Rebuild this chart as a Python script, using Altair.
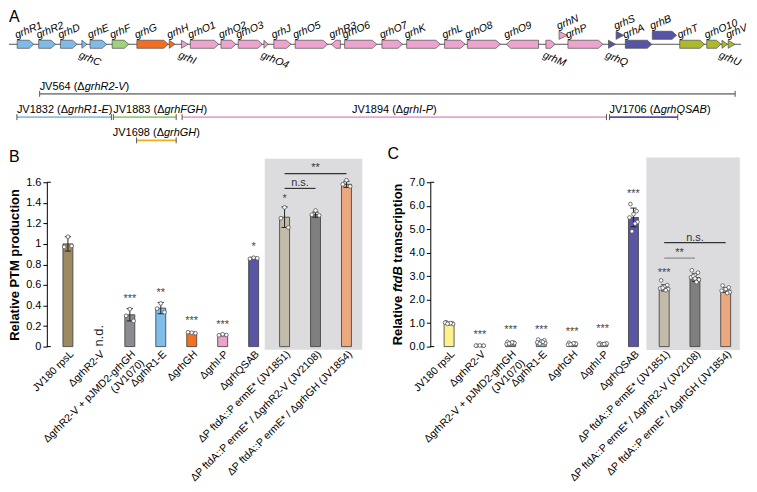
import json
import altair as alt
import pandas as pd

FONT = "Liberation Sans"

# ================= Panel A : gene cluster =================
gene_names = ["grhR1", "grhR2", "grhD", "grhC", "grhE", "grhF", "grhG", "grhH", "grhI",
              "grhO1", "grhO2", "grhO3", "grhO4", "grhJ", "grhO5", "grhR3", "grhO6", "grhO7",
              "grhK", "grhL", "grhO8", "grhO9", "grhM", "grhN", "grhP", "grhQ", "grhS",
              "grhA", "grhB", "grhT", "grhO10", "grhU", "grhV"]
gene_start = [12.3, 34, 56, 77.7, 86, 108.3, 133.3, 166, 178.3, 187.3, 218.3, 235.7, 261.7,
              271.7, 293.3, 330, 343.3, 381, 406, 444.3, 467.3, 506.7, 546.7, 560, 569,
              610, 617.7, 627, 654.3, 682, 709.3, 724.7, 731]
gene_end = [29, 51, 72.7, 82.7, 102.7, 125, 165, 171.7, 185, 216, 233.3, 260, 266, 289, 326,
            339, 375.7, 401.7, 440, 465, 500.7, 539.3, 556, 568.3, 604.3, 617, 625.3, 653.7,
            678.7, 707, 723.7, 730.3, 737.7]
gene_strand = [1, 1, 1, 1, 1, 1, 1, 1, 1, 1, 1, 1, 1, 1, 1, -1, 1, 1, 1, 1, 1, -1, 1, 1, 1,
               1, 1, 1, 1, 1, 1, 1, 1]
gene_lane = [0, 0, 0, 0, 0, 0, 0, 0, 0, 0, 0, 0, 0, 0, 0, 0, 0, 0, 0, 0, 0, 0, 0, 1, 0,
             0, 1, 0, 1, 0, 0, 0, 0]
gene_group = ["reg", "reg", "reg", "reg", "reg", "fgh", "gh", "gh", "ip", "ip", "ip", "ip", "ip",
              "ip", "ip", "ip", "ip", "ip", "ip", "ip", "ip", "ip", "ip", "ip", "ip",
              "qsab", "qsab", "qsab", "qsab", "tuv", "tuv", "tuv", "tuv"]
labels_below = ["grhC", "grhI", "grhO4", "grhM", "grhQ", "grhU"]
group_names = ["reg", "fgh", "gh", "ip", "qsab", "tuv"]
group_colors = ["#80bbe8", "#9fd17e", "#f26e22", "#eba4cd", "#5753a5", "#aab92d"]
backbone = [4, 744]

del_labels = ["JV564 (ΔgrhR2-V)", "JV1832 (ΔgrhR1-E)", "JV1883 (ΔgrhFGH)",
              "JV1894 (ΔgrhI-P)", "JV1706 (ΔgrhQSAB)", "JV1698 (ΔgrhGH)"]
del_start = [35, 12, 109.5, 179, 611, 133]
del_end = [738, 107.5, 173, 608, 680, 173]
del_lane = [-5.53, -8.13, -8.13, -8.13, -8.13, -10.72]
del_colors = ["#8a8a8a", "#86bfe9", "#96cd74", "#eca3cc", "#5450a5", "#f4ae1c"]
del_centered = [False, False, False, True, False, True]

HEAD = 4.5
HALF = 0.45
LEFT_EXT = 38                      # width of the B axis area, shared with panel A
A_X_DOMAIN = [4 + LEFT_EXT / 0.993, 750]
A_Y_DOMAIN = [-11.06, 3.94]
A_W, A_H = 703, 135
PXU = A_W / (A_X_DOMAIN[1] - A_X_DOMAIN[0])   # pixels per genome unit

# Arial / Liberation Sans advance widths (1/1000 em) used to place italic runs
REG_W = {" ": 278, "(": 333, ")": 333, "-": 333, "Δ": 667, "J": 500, "V": 667, "g": 556,
         "r": 333, "h": 556, "R": 722, "E": 667, "F": 611, "G": 778, "H": 722, "I": 278,
         "P": 667, "Q": 778, "S": 667, "A": 667, "B": 667}
BOLD_W = {" ": 278, "R": 722, "e": 556, "l": 278, "a": 556, "t": 333, "i": 278, "v": 556,
          "f": 333, "d": 611, "B": 722, "r": 389, "n": 611, "s": 556, "c": 556, "p": 611,
          "o": 611}


def text_w(s, size, table):
    return sum(table.get(c, 556) for c in s) * size / 1000.0


def ax(field):
    return alt.X(field, type="quantitative",
                 scale=alt.Scale(domain=A_X_DOMAIN, nice=False, zero=False), axis=None)


def ay(field):
    return alt.Y(field, type="quantitative", stack=False,
                 scale=alt.Scale(domain=A_Y_DOMAIN, nice=False, zero=False), axis=None)


rows = []
for i, n in enumerate(gene_names):
    s, e = gene_start[i], gene_end[i]
    ln = e - s
    h = ln if ln < 9 else HEAD
    lane = gene_lane[i]
    if gene_strand[i] > 0:
        pts = [(s, 1.0), (e - h, 1.0), (e, 0.0)] if h < ln else [(s, 1.0), (e, 0.0)]
    else:
        pts = [(s, 0.0), (s + h, 1.0), (e, 1.0)] if h < ln else [(s, 0.0), (e, 1.0)]
    for x, f in pts:
        rows.append({"gene": n, "x": x, "top": lane + HALF * f, "bot": lane - HALF * f,
                     "grp": gene_group[i]})
arrow_df = pd.DataFrame(rows)

genes_df = pd.DataFrame({"gene": gene_names, "start": gene_start, "end": gene_end,
                         "lane": gene_lane})
genes_df["top"] = genes_df["lane"] + HALF
genes_df["bot"] = genes_df["lane"] - HALF
above_df = genes_df[~genes_df["gene"].isin(labels_below)]
below_df = genes_df[genes_df["gene"].isin(labels_below)]

bb_df = pd.DataFrame({"x0": [backbone[0]], "x1": [backbone[1]], "lane": [0]})

del_df = pd.DataFrame({"label": del_labels, "start": del_start, "end": del_end,
                       "lane": del_lane, "color": del_colors, "centered": del_centered})
del_df["lo"] = del_df["lane"] - 0.33
del_df["hi"] = del_df["lane"] + 0.33
ends_df = pd.concat([del_df.assign(xe=del_df["start"]), del_df.assign(xe=del_df["end"])])

# split each deletion label into normal / italic / normal runs
DFS = 11
piece_rows = []
for i, lab in enumerate(del_labels):
    k = lab.index("Δ") + 1
    pre, ital, suf = lab[:k], lab[k:-1], lab[-1:]
    total = text_w(lab, DFS, REG_W)
    if del_centered[i]:
        x0 = (del_start[i] + del_end[i]) / 2 - total / 2 / PXU
    else:
        x0 = del_start[i]
    w_pre = text_w(pre, DFS, REG_W)
    w_it = text_w(ital, DFS, REG_W)
    piece_rows.append({"t": pre, "x": x0, "lane": del_lane[i], "style": "normal"})
    piece_rows.append({"t": ital, "x": x0 + w_pre / PXU, "lane": del_lane[i], "style": "italic"})
    piece_rows.append({"t": suf, "x": x0 + (w_pre + w_it) / PXU, "lane": del_lane[i],
                       "style": "normal"})
pieces_df = pd.DataFrame(piece_rows)

a_backbone = alt.Chart(bb_df).mark_rule(color="#555555", strokeWidth=1).encode(
    x=ax("x0"), x2="x1", y=ay("lane"))
a_arrows = alt.Chart(arrow_df).mark_area(stroke="#4d4d4d", strokeWidth=0.7, orient="vertical",
                                          interpolate="linear", opacity=1).encode(
    x=ax("x"), y=ay("top"), y2="bot",
    fill=alt.Fill("grp:N", scale=alt.Scale(domain=group_names, range=group_colors), legend=None),
    detail="gene:N")
a_lab_up = alt.Chart(above_df).mark_text(angle=338, align="left", baseline="alphabetic",
                                          dy=-2, fontSize=10.5, fontStyle="italic",
                                          color="#000").encode(
    x=ax("start"), y=ay("top"), text="gene:N")
a_lab_dn = alt.Chart(below_df).mark_text(angle=22, align="left", baseline="top", dy=2,
                                          fontSize=10.5, fontStyle="italic",
                                          color="#000").encode(
    x=ax("start"), y=ay("bot"), text="gene:N")
a_del = alt.Chart(del_df).mark_rule(strokeWidth=1.6).encode(
    x=ax("start"), x2="end", y=ay("lane"), color=alt.Color("color:N", scale=None))
a_ends = alt.Chart(ends_df).mark_rule(strokeWidth=1, color="#555555").encode(
    x=ax("xe"), y=ay("lo"), y2="hi")
a_dlab_n = alt.Chart(pieces_df[pieces_df["style"] == "normal"]).mark_text(
    align="left", baseline="alphabetic", dy=-4, fontSize=DFS, color="#000").encode(
    x=ax("x"), y=ay("lane"), text="t:N")
a_dlab_i = alt.Chart(pieces_df[pieces_df["style"] == "italic"]).mark_text(
    align="left", baseline="alphabetic", dy=-4, fontSize=DFS, fontStyle="italic",
    color="#000").encode(
    x=ax("x"), y=ay("lane"), text="t:N")
a_letter = alt.Chart(pd.DataFrame({"t": ["A"]})).mark_text(
    align="left", baseline="top", fontSize=16, color="#000").encode(
    x=alt.value(-LEFT_EXT), y=alt.value(0), text="t:N")

panel_a = alt.layer(a_backbone, a_arrows, a_lab_up, a_lab_dn, a_del, a_ends,
                    a_dlab_n, a_dlab_i, a_letter).properties(width=A_W, height=A_H)

# ================= Panels B and C : bar charts =================
NB = "\u00a0"
strain_labels = ["JV180 rpsL", "ΔgrhR2-V", "ΔgrhR2-V + pJMD2-grhGH|(JV1070)" + NB * 14,
                 "ΔgrhR1-E", "ΔgrhGH", "ΔgrhI-P", "ΔgrhQSAB", "ΔP ftdA::P ermE* (JV1851)",
                 "ΔP ftdA::P ermE* / ΔgrhR2-V (JV2108)", "ΔP ftdA::P ermE* / ΔgrhGH (JV1854)"]

b_colors = ["#9c8b62", "#ffffff", "#8c8c90", "#80bde9", "#f36f21", "#eba3cb", "#5a55a5",
            "#c2bba9", "#7f7f7f", "#eba77d"]
b_mean = [1.0, None, 0.31, 0.375, 0.135, 0.113, 0.86, 1.26, 1.285, 1.58]
b_sd = [0.07, None, 0.06, 0.055, 0.005, 0.008, 0.01, 0.1, 0.025, 0.03]
b_points = [[1.07, 0.97, 0.98], [], [0.365, 0.30, 0.25], [0.42, 0.37, 0.335],
            [0.135, 0.14, 0.13], [0.12, 0.11, 0.113], [0.865, 0.855, 0.86],
            [1.355, 1.25, 1.16], [1.325, 1.284, 1.277], [1.62, 1.58, 1.56]]
b_offsets = [0.0, -0.12, 0.12]
b_star_idx = [2, 3, 4, 5, 6, 7]
b_star_txt = ["***", "**", "***", "***", "*", "*"]
b_star_y = [0.46, 0.52, 0.25, 0.215, 0.97, 1.44]
b_sig_from = [7, 7]
b_sig_to = [9, 8]
b_sig_y = [1.684, 1.54]
b_sig_txt = ["**", "n.s."]
b_sig_txt_y = [1.74, 1.59]
b_sig_color = ["#333333", "#333333"]
b_box = [6.36, 9.51, -0.03, 1.83]
b_yticks = [0, 0.2, 0.4, 0.6, 0.8, 1.0, 1.2, 1.4, 1.6]

c_colors = ["#fdf18b", "#d0d0d0", "#8c8c90", "#80bde9", "#f36f21", "#eba3cb", "#5a55a5",
            "#c2bba9", "#7f7f7f", "#eba77d"]
c_mean = [0.99, 0.04, 0.15, 0.2, 0.12, 0.115, 5.5, 2.5, 2.94, 2.41]
c_sd = [0.03, 0.01, 0.04, 0.06, 0.03, 0.02, 0.4, 0.13, 0.16, 0.1]
c_points = [[1.04, 1.0, 0.98, 1.02, 0.96, 1.0, 0.97],
            [0.04, 0.03, 0.05, 0.04, 0.04],
            [0.2, 0.17, 0.12, 0.1, 0.15, 0.18, 0.13],
            [0.3, 0.27, 0.22, 0.18, 0.15, 0.2, 0.12],
            [0.16, 0.13, 0.1, 0.08, 0.12, 0.14, 0.09],
            [0.14, 0.12, 0.1, 0.09, 0.13, 0.11],
            [6.07, 5.77, 5.64, 5.5, 5.31, 5.24, 4.91],
            [2.82, 2.62, 2.55, 2.48, 2.45, 2.4, 2.5],
            [3.25, 3.15, 3.05, 2.95, 2.85, 2.75, 3.0, 2.9],
            [2.6, 2.52, 2.45, 2.38, 2.32, 2.28]]
c_offsets = [-0.1, 0.1, 0.0, -0.13, 0.13, 0.05, -0.05, 0.0]
c_star_idx = [1, 2, 3, 4, 5, 6, 7]
c_star_txt = ["***"] * 7
c_star_y = [0.5, 0.69, 0.69, 0.61, 0.75, 6.5, 3.15]
c_sig_from = [7, 7]
c_sig_to = [8, 9]
c_sig_y = [3.77, 4.43]
c_sig_txt = ["**", "n.s."]
c_sig_txt_y = [3.98, 4.64]
c_sig_color = ["#8a8a8a", "#333333"]
c_box = [6.42, 9.46, -0.14, 8.06]
c_yticks = [0, 1, 2, 3, 4, 5, 6, 7]
c_title_runs = ["Relative ", "ftdB", " transcription"]
c_title_italic = [False, True, False]

LABEL_EXPR = "split(" + json.dumps(strain_labels, ensure_ascii=False) + "[datum.value], '|')"
PLOT_H = 165
TFS = 13


def bar_panel(colors, means, sds, points, offsets, s_idx, s_txt, s_y, g_from, g_to, g_y,
              g_txt, g_txt_y, g_col, box, ydomain, yticks, yfmt, ytitle, width, xdomain,
              letter, letter_x, letter_y, title_pad, nd_idx=None, title_runs=None,
              title_italic=None):
    xsc = alt.Scale(domain=xdomain, nice=False, zero=False)
    ysc = alt.Scale(domain=ydomain, nice=False, zero=False)
    xaxis = alt.Axis(values=list(range(10)), labelExpr=LABEL_EXPR, labelAngle=315,
                     labelAlign="right", labelBaseline="top", labelFontSize=10.5,
                     labelPadding=2, labelOverlap=False, labelFlush=False, labelLimit=400,
                     domain=False, ticks=False, grid=False, title=None, labelColor="#000")
    yaxis_kw = dict(values=yticks, format=yfmt, labelFontSize=11, tickSize=4, grid=False,
                    domainColor="#000", tickColor="#000", labelColor="#000", labelPadding=2)
    if ytitle is not None:
        yaxis_kw.update(title=ytitle, titleFontSize=TFS, titleFontWeight="bold",
                        titlePadding=title_pad, titleColor="#000")
    else:
        yaxis_kw.update(title=None)
    yaxis = alt.Axis(**yaxis_kw)

    def X(f):
        return alt.X(f, type="quantitative", scale=xsc, axis=xaxis)

    def Y(f):
        return alt.Y(f, type="quantitative", scale=ysc, axis=yaxis, stack=False)

    box_df = pd.DataFrame({"x0": [box[0]], "x1": [box[1]], "y0": [box[2]], "y1": [box[3]]})
    bars = pd.DataFrame({"idx": list(range(10)), "mean": means, "sd": sds, "color": colors})
    bars = bars[bars["mean"].notna()].copy()
    bars["lo"] = bars["mean"] - bars["sd"]
    bars["hi"] = bars["mean"] + bars["sd"]
    bars["cl"] = bars["idx"] - 0.1
    bars["cr"] = bars["idx"] + 0.1
    prow = []
    for i, vals in enumerate(points):
        for j, v in enumerate(vals):
            prow.append({"x": i + offsets[j % len(offsets)], "v": v})
    pts_df = pd.DataFrame(prow)
    stars_df = pd.DataFrame({"idx": s_idx, "txt": s_txt, "y": s_y})
    sig_df = pd.DataFrame({"x0": g_from, "x1": g_to, "y": g_y, "txt": g_txt, "ty": g_txt_y,
                           "col": g_col})
    sig_df["mid"] = (sig_df["x0"] + sig_df["x1"]) / 2
    caps_df = pd.DataFrame({"yv": [ydomain[0], ydomain[1]]})

    layers = [
        alt.Chart(box_df).mark_rect(color="#dcdcde").encode(
            x=X("x0"), x2="x1", y=Y("y0"), y2="y1"),
        alt.Chart(caps_df).mark_rule(color="#000", strokeWidth=1).encode(
            x=alt.value(0), x2=alt.value(4), y=Y("yv")),
        alt.Chart(bars).mark_bar(size=10, stroke="#3a3a3a", strokeWidth=0.8).encode(
            x=X("idx"), y=Y("mean"), fill=alt.Fill("color:N", scale=None)),
        alt.Chart(bars).mark_rule(color="#222", strokeWidth=1).encode(
            x=X("idx"), y=Y("lo"), y2="hi"),
        alt.Chart(bars).mark_rule(color="#222", strokeWidth=1).encode(
            x=X("cl"), x2="cr", y=Y("hi")),
        alt.Chart(bars).mark_rule(color="#222", strokeWidth=1).encode(
            x=X("cl"), x2="cr", y=Y("lo")),
        alt.Chart(pts_df).mark_circle(size=14, fill="white", stroke="#555555",
                                      strokeWidth=0.8, opacity=1).encode(
            x=X("x"), y=Y("v")),
        alt.Chart(stars_df).mark_text(fontSize=11, color="#444444", baseline="middle").encode(
            x=X("idx"), y=Y("y"), text="txt:N"),
        alt.Chart(sig_df).mark_rule(strokeWidth=1.2).encode(
            x=X("x0"), x2="x1", y=Y("y"), color=alt.Color("col:N", scale=None)),
        alt.Chart(sig_df).mark_text(fontSize=11, color="#333333", baseline="middle").encode(
            x=X("mid"), y=Y("ty"), text="txt:N"),
        alt.Chart(pd.DataFrame({"t": [letter]})).mark_text(
            align="left", baseline="top", fontSize=16, color="#000").encode(
            x=alt.value(letter_x), y=alt.value(letter_y), text="t:N"),
    ]
    if nd_idx is not None:
        nd_df = pd.DataFrame({"idx": [nd_idx], "y": [0], "t": ["n.d."]})
        layers.append(alt.Chart(nd_df).mark_text(angle=270, align="left", baseline="middle",
                                                 fontSize=13, color="#222").encode(
            x=X("idx"), y=Y("y"), text="t:N"))
    if title_runs is not None:
        total = text_w("".join(title_runs), TFS, BOLD_W)
        ypos = PLOT_H / 2 + total / 2
        for run, it in zip(title_runs, title_italic):
            lead = len(run) - len(run.lstrip(" "))
            y_run = ypos - text_w(" " * lead, TFS, BOLD_W)
            mk = dict(angle=270, align="left", baseline="bottom", fontSize=TFS,
                      fontWeight="bold", color="#000")
            if it:
                mk["fontStyle"] = "italic"
            layers.append(alt.Chart(pd.DataFrame({"t": [run.strip()]})).mark_text(**mk).encode(
                x=alt.value(-(4 + 2 + 15.3 + title_pad)), y=alt.value(y_run), text="t:N"))
            ypos -= text_w(run, TFS, BOLD_W)
    return alt.layer(*layers).properties(width=width, height=PLOT_H)


panel_b = bar_panel(b_colors, b_mean, b_sd, b_points, b_offsets, b_star_idx, b_star_txt,
                    b_star_y, b_sig_from, b_sig_to, b_sig_y, b_sig_txt, b_sig_txt_y,
                    b_sig_color, b_box, [0, 1.6], b_yticks, ".1~f", "Relative PTM production",
                    322, [-0.52, 9.52], "B", -LEFT_EXT, -33, 4, nd_idx=1)
panel_c = bar_panel(c_colors, c_mean, c_sd, c_points, c_offsets, c_star_idx, c_star_txt,
                    c_star_y, c_sig_from, c_sig_to, c_sig_y, c_sig_txt, c_sig_txt_y,
                    c_sig_color, c_box, [0, 7], c_yticks, ".1f", None,
                    317, [-0.45, 9.5], "C", -43, -36, 4,
                    title_runs=c_title_runs, title_italic=c_title_italic)

chart = alt.vconcat(
    panel_a,
    alt.hconcat(panel_b, panel_c, spacing=20),
    spacing=2,
).properties(padding=0).configure(font=FONT).configure_view(strokeWidth=0)

chart.save("out.html", embed_options={"renderer": "svg", "actions": False})
